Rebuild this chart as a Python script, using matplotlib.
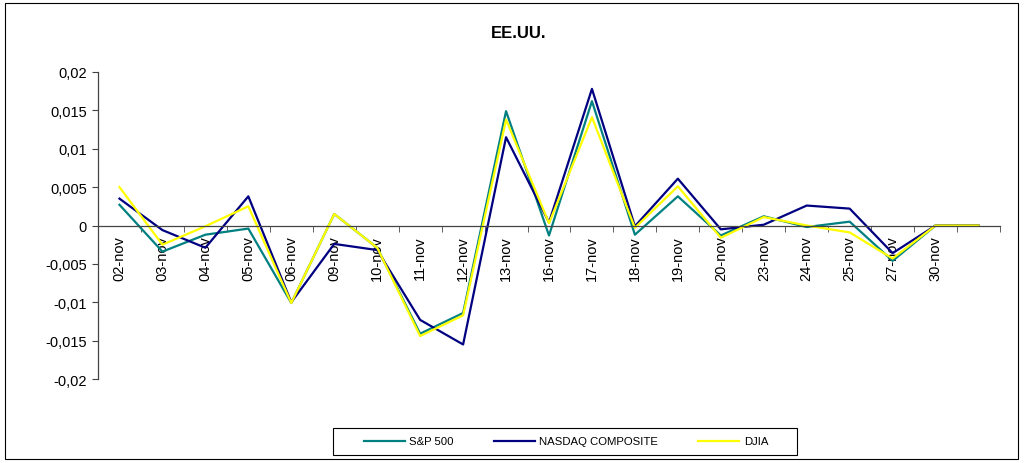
import matplotlib
matplotlib.use("Agg")
import matplotlib.pyplot as plt
from matplotlib.ticker import FixedLocator, FuncFormatter, NullFormatter
from matplotlib.patches import Rectangle

plt.rcParams['font.family'] = ['Liberation Sans', 'DejaVu Sans']

categories = ["02-nov", "03-nov", "04-nov", "05-nov", "06-nov", "09-nov", "10-nov",
              "11-nov", "12-nov", "13-nov", "16-nov", "17-nov", "18-nov", "19-nov",
              "20-nov", "23-nov", "24-nov", "25-nov", "27-nov", "30-nov", ""]

sp500 = [0.0027, -0.0034, -0.0012, -0.0004, -0.0101, 0.0015, -0.0029,
         -0.0141, -0.0114, 0.0149, -0.0013, 0.0162, -0.0012, 0.0038,
         -0.0013, 0.0012, -0.0002, 0.0005, -0.0046, 0.0, 0.0]
nasdaq = [0.0035, -0.0006, -0.0029, 0.0038, -0.0100, -0.0024, -0.0032,
          -0.0123, -0.0155, 0.0115, 0.0004, 0.0178, -0.0001, 0.0061,
          -0.0005, 0.0001, 0.0026, 0.0022, -0.0036, 0.0, 0.0]
djia = [0.0050, -0.0025, -0.0001, 0.0025, -0.0101, 0.0015, -0.0029,
        -0.0144, -0.0117, 0.0138, 0.0003, 0.0141, -0.0003, 0.0051,
        -0.0016, 0.0011, 0.0000, -0.0009, -0.0043, 0.0, 0.0]

yticks = [-0.02, -0.015, -0.01, -0.005, 0, 0.005, 0.01, 0.015, 0.02]

W, H = 1024, 464
fig = plt.figure(figsize=(W / 100, H / 100), dpi=100)
fig.patches.append(Rectangle((5 / W, 4 / H), 1013 / W, 456 / H, transform=fig.transFigure,
                             fill=False, edgecolor='black', linewidth=0.8))

ax = fig.add_axes([98 / W, 1 - 380 / H, 902 / W, (380 - 73) / H])
x = list(range(len(categories)))
ax.plot(x, sp500, color='#008080', lw=1.6, label='S&P 500')
ax.plot(x, nasdaq, color='#000080', lw=1.6, label='NASDAQ COMPOSITE')
ax.plot(x, djia, color='#FFFF00', lw=1.6, label='DJIA')

ax.set_xlim(-0.5, len(categories) - 0.5)
ax.set_ylim(-0.02, 0.02)
ax.spines['top'].set_visible(False)
ax.spines['right'].set_visible(False)
ax.spines['bottom'].set_position(('data', 0))
for s in ['left', 'bottom']:
    ax.spines[s].set_color('#444444')
    ax.spines[s].set_linewidth(0.9)

ax.set_yticks(yticks)
ax.yaxis.set_major_formatter(FuncFormatter(lambda v, p: ('%g' % v).replace('.', ',') if abs(v) > 1e-12 else '0'))
ax.tick_params(axis='y', direction='out', length=4, labelsize=10.5, pad=4, color='#444444')

ax.set_xticks(x)
ax.set_xticklabels(categories, rotation=90, fontsize=10.5)
ax.xaxis.set_minor_locator(FixedLocator([i - 0.5 for i in range(len(categories) + 1)]))
ax.xaxis.set_minor_formatter(NullFormatter())
ax.tick_params(axis='x', which='major', length=0, pad=7)
ax.tick_params(axis='x', which='minor', direction='out', length=4, color='#444444')

fig.text(519 / W, 1 - 33 / H, 'EE.UU.', ha='center', va='center', fontsize=12, fontweight='bold')

# legend box
fig.patches.append(Rectangle((333 / W, 1 - 456 / H), (797 - 333) / W, 27 / H, transform=fig.transFigure,
                             fill=False, edgecolor='black', linewidth=0.8))
leg = fig.legend(loc='center', bbox_to_anchor=(566 / W, 1 - 442.5 / H), ncol=3, fontsize=8.2,
                 frameon=False, handlelength=3.6, handletextpad=0.4,
                 columnspacing=3.5, borderpad=0.3)

fig.savefig('out.png', dpi=100)
